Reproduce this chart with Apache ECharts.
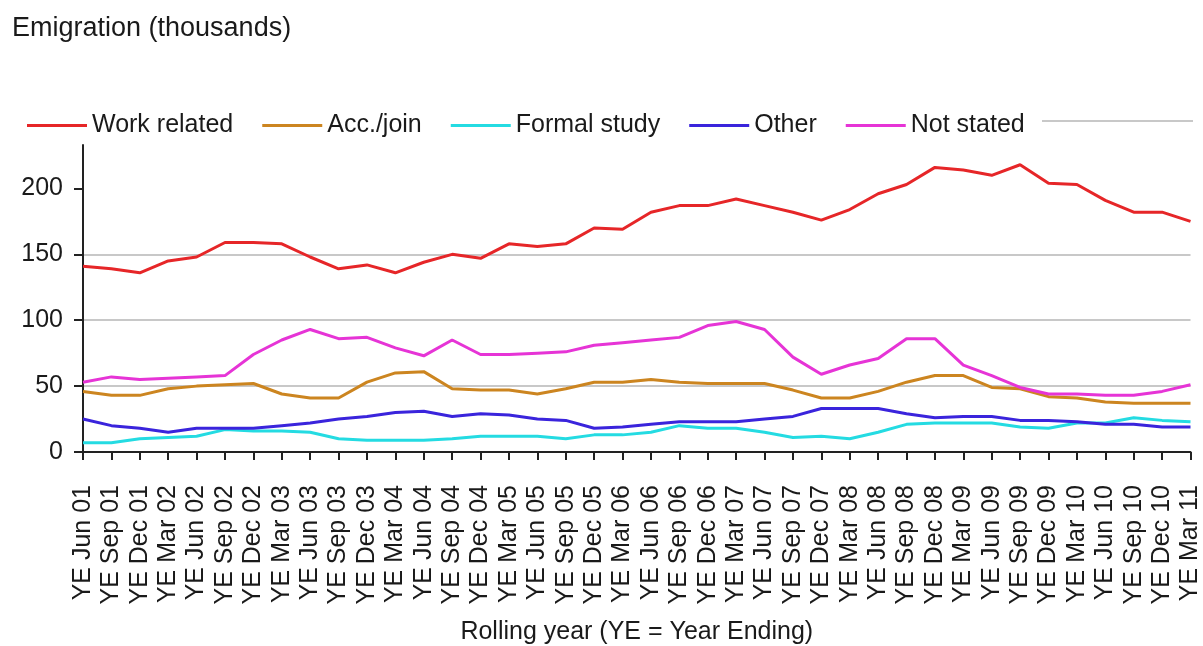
<!DOCTYPE html>
<html>
<head>
<meta charset="utf-8">
<title>Emigration (thousands)</title>
<script src="https://cdn.jsdelivr.net/npm/echarts@6.0.0/dist/echarts.min.js"></script>
<style>
  html, body { margin: 0; padding: 0; background: #fff; }
  #chart { width: 1203px; height: 646px; }
</style>
</head>
<body>
<div id="chart"></div>
<script>
// quarterly rolling years, YE Jun 01 .. YE Mar 11
const categories = [
  'YE Jun 01', 'YE Sep 01', 'YE Dec 01',
  'YE Mar 02', 'YE Jun 02', 'YE Sep 02', 'YE Dec 02',
  'YE Mar 03', 'YE Jun 03', 'YE Sep 03', 'YE Dec 03',
  'YE Mar 04', 'YE Jun 04', 'YE Sep 04', 'YE Dec 04',
  'YE Mar 05', 'YE Jun 05', 'YE Sep 05', 'YE Dec 05',
  'YE Mar 06', 'YE Jun 06', 'YE Sep 06', 'YE Dec 06',
  'YE Mar 07', 'YE Jun 07', 'YE Sep 07', 'YE Dec 07',
  'YE Mar 08', 'YE Jun 08', 'YE Sep 08', 'YE Dec 08',
  'YE Mar 09', 'YE Jun 09', 'YE Sep 09', 'YE Dec 09',
  'YE Mar 10', 'YE Jun 10', 'YE Sep 10', 'YE Dec 10',
  'YE Mar 11'
]

const workRelated = [141, 139, 136, 145, 148, 159, 159, 158, 148, 139, 142, 136, 144, 150, 147, 158, 156, 158, 170, 169,
  182, 187, 187, 192, 187, 182, 176, 184, 196, 203, 216, 214, 210, 218, 204, 203, 191, 182, 182, 175]
const accJoin = [46, 43, 43, 48, 50, 51, 52, 44, 41, 41, 53, 60, 61, 48, 47, 47, 44, 48, 53, 53,
  55, 53, 52, 52, 52, 47, 41, 41, 46, 53, 58, 58, 49, 48, 42, 41, 38, 37, 37, 37]
const formalStudy = [7, 7, 10, 11, 12, 17, 16, 16, 15, 10, 9, 9, 9, 10, 12, 12, 12, 10, 13, 13,
  15, 20, 18, 18, 15, 11, 12, 10, 15, 21, 22, 22, 22, 19, 18, 22, 22, 26, 24, 23]
const other = [25, 20, 18, 15, 18, 18, 18, 20, 22, 25, 27, 30, 31, 27, 29, 28, 25, 24, 18, 19,
  21, 23, 23, 23, 25, 27, 33, 33, 33, 29, 26, 27, 27, 24, 24, 23, 21, 21, 19, 19]
const notStated = [53, 57, 55, 56, 57, 58, 74, 85, 93, 86, 87, 79, 73, 85, 74, 74, 75, 76, 81, 83,
  85, 87, 96, 99, 93, 72, 59, 66, 71, 86, 86, 66, 58, 49, 44, 44, 43, 43, 46, 51]

const yTicks = [0, 50, 100, 150, 200]

const seriesDefs = [
  { name: 'Work related', data: workRelated, color: '#e62628' },
  { name: 'Acc./join', data: accJoin, color: '#cc8520' },
  { name: 'Formal study', data: formalStudy, color: '#24dbe2' },
  { name: 'Other', data: other, color: '#3a24dc' },
  { name: 'Not stated', data: notStated, color: '#e634d6' }
]

const font = '"Liberation Sans", Arial, sans-serif'
const myChart = echarts.init(document.getElementById('chart'), null, { renderer: 'canvas' })

myChart.setOption({
  backgroundColor: '#fff',
  animation: false,
  textStyle: { fontFamily: font },
  title: {
    text: 'Emigration (thousands)',
    left: 7,
    top: 10,
    textStyle: { fontFamily: font, fontSize: 27, fontWeight: 'normal', color: '#1a1a1a' }
  },
  legend: {
    left: 22,
    top: 108,
    icon: 'rect',
    itemWidth: 60,
    itemHeight: 3,
    itemGap: 29,
    textStyle: { fontFamily: font, fontSize: 25, color: '#1a1a1a', padding: [0, 0, 0, 0] },
    data: seriesDefs.map(s => s.name)
  },
  graphic: [{
    // trailing grey key line in the legend row
    type: 'line',
    shape: { x1: 1042, y1: 121, x2: 1193, y2: 121 },
    style: { stroke: '#c8c8c8', lineWidth: 2 }
  }],
  grid: {
    left: 83,
    right: 10,
    top: 145,
    bottom: 181,
    containLabel: false
  },
  xAxis: {
    type: 'category',
    data: categories,
    boundaryGap: false,
    name: 'Rolling year (YE = Year Ending)',
    nameLocation: 'middle',
    nameGap: 168,
    nameTextStyle: { fontFamily: font, fontSize: 25, color: '#1a1a1a' },
    axisLine: { lineStyle: { color: '#222', width: 2 } },
    axisTick: { alignWithLabel: true, interval: 0, length: 8, lineStyle: { color: '#222', width: 2 } },
    axisLabel: {
      interval: 0,
      rotate: 90,
      margin: 33,
      fontFamily: font,
      fontSize: 25,
      color: '#1a1a1a'
    },
    splitLine: { show: false }
  },
  yAxis: {
    type: 'value',
    min: 0,
    max: 233,
    axisLine: { show: true, lineStyle: { color: '#222', width: 2 } },
    axisTick: { show: true, length: 9, customValues: yTicks, lineStyle: { color: '#222', width: 2 } },
    axisLabel: {
      customValues: yTicks,
      margin: 20,
      fontFamily: font,
      fontSize: 25,
      color: '#1a1a1a'
    },
    splitLine: { show: true, showMinLine: false, showMaxLine: false, lineStyle: { color: '#c8c8c8', width: 2 } }
  },
  series: seriesDefs.map(s => ({
    name: s.name,
    type: 'line',
    data: s.data,
    symbol: 'none',
    smooth: false,
    color: s.color,
    lineStyle: { width: 3, color: s.color }
  }))
})
</script>
</body>
</html>
